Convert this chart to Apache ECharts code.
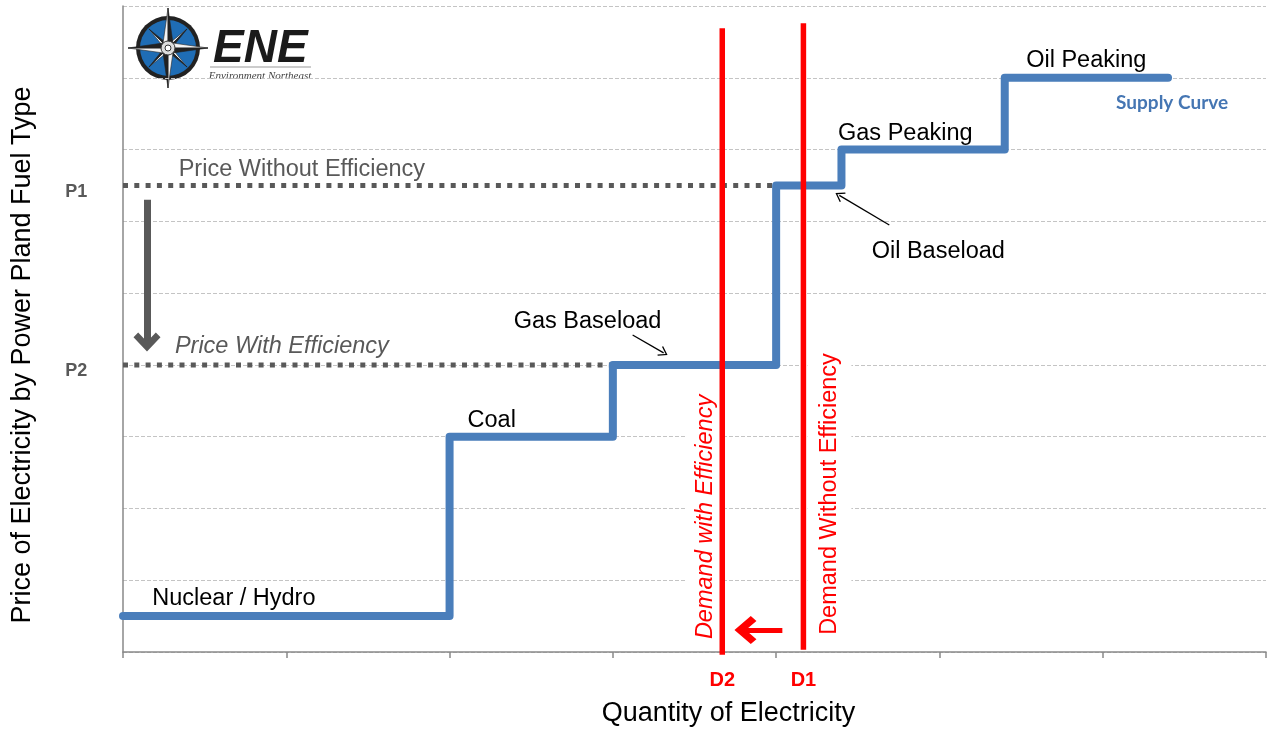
<!DOCTYPE html>
<html>
<head>
<meta charset="utf-8">
<script src="https://cdn.jsdelivr.net/npm/echarts@6/dist/echarts.min.js"></script>
<style>
  html, body { margin: 0; padding: 0; background: #fff; }
  #chart { width: 1267px; height: 729px; }
</style>
</head>
<body>
<div id="chart"></div>
<script>
// supply curve: quantity where each step starts, and the price of that step
const quantityBreaks = [0, 2, 3, 4, 4.4, 5.4, 6.4];
const supplyPrice = [0.5, 3, 4, 6.5, 7, 8, 8];

// market prices (P1 without efficiency, P2 with efficiency)
const priceNames = ['P1', 'P2'];
const priceLevels = [6.5, 4];
const priceEndQty = [4, 3];

// demand lines (D2 with efficiency, D1 without)
const demandNames = ['D2', 'D1'];
const demandQty = [3.67, 4.167];
const demandLow = [-0.04, 0.03];
const demandHigh = [8.69, 8.76];

// text annotations
const plantNames = ['Nuclear / Hydro', 'Coal', 'Gas Baseload', 'Oil Baseload', 'Gas Peaking', 'Oil Peaking'];
const plantLabelAt = [[0.783, 0.75], [2.258, 3.22], [2.845, 4.61], [4.993, 5.585], [4.791, 7.23], [5.899, 8.245]];

const FONT = 'Liberation Sans';
const RED = '#ff0000';
const BLUE = '#4a7ebb';
const GREY = '#595959';
const LABEL_SIZE = 23.5;

const chart = echarts.init(document.getElementById('chart'));

const supplyData = quantityBreaks.map((q, i) => [q, supplyPrice[i]]);

const textItems = [];
plantNames.forEach((name, i) => {
  const item = { value: plantLabelAt[i], label: { formatter: name } };
  if (i === 0) {
    item.label.backgroundColor = '#fff';
    item.label.padding = [5, 49, 1, 15];
  }
  textItems.push(item);
});
textItems.push({ value: [6.425, 7.65], label: { formatter: 'Supply Curve', color: '#4576b3', fontWeight: 'bold', fontFamily: 'Lato', fontSize: 19 } });
textItems.push({ value: [1.224, 6.724], label: { formatter: 'Price Without Efficiency', color: GREY, backgroundColor: '#fff', padding: [8, 55, 2, 13] } });
textItems.push({ value: [0.973, 4.25], label: { formatter: 'Price With Efficiency', color: GREY, fontStyle: 'italic' } });
textItems.push({ value: [3.567, 1.881], label: { formatter: 'Demand with Efficiency', color: RED, fontStyle: 'italic', rotate: 90, backgroundColor: '#fff', padding: [7, 4, 7, 4] } });
textItems.push({ value: [4.326, 2.201], label: { formatter: 'Demand Without Efficiency', color: RED, rotate: 90, backgroundColor: '#fff', padding: [10, 4, 10, 4] } });
priceNames.forEach((name, i) => {
  textItems.push({ value: [-0.287, priceLevels[i] - 0.09], label: { formatter: name, color: GREY, fontWeight: 'bold', fontSize: 18 } });
});
demandNames.forEach((name, i) => {
  textItems.push({ value: [demandQty[i], -0.40], label: { formatter: name, color: RED, fontWeight: 'bold', fontSize: 20 } });
});

const bigChevron = 'path://M0,13 L13,0 L26,13 L21.5,17.5 L13,9 L4.5,17.5 Z';
const thinChevron = 'path://M0,8 L5.5,0 L11,8 L10,8.8 L5.5,2.2 L1,8.8 Z';

// compass rose for the logo
const cx = 168, cy = 48;
const star = [];
function addPoint(angle, len, baseR, spread) {
  const a = angle * Math.PI / 180;
  const tip = [cx + len * Math.sin(a), cy - len * Math.cos(a)];
  const b1 = [cx + baseR * Math.sin(a - spread), cy - baseR * Math.cos(a - spread)];
  const b2 = [cx + baseR * Math.sin(a + spread), cy - baseR * Math.cos(a + spread)];
  star.push({ type: 'polygon', shape: { points: [[cx, cy], tip, b1] }, style: { fill: '#f4f4f4', stroke: '#222', lineWidth: 0.6 } });
  star.push({ type: 'polygon', shape: { points: [[cx, cy], tip, b2] }, style: { fill: '#222', stroke: '#222', lineWidth: 0.6 } });
}
[45, 135, 225, 315].forEach(a => addPoint(a, 27, 6, Math.PI / 8));
[0, 90, 180, 270].forEach(a => addPoint(a, 40, 7, Math.PI / 4));

const logo = [
  { type: 'rect', shape: { x: 124, y: 9, width: 192, height: 80 }, style: { fill: '#fff' } },
  { type: 'circle', shape: { cx, cy, r: 32 }, style: { fill: '#222' } },
  { type: 'circle', shape: { cx, cy, r: 28 }, style: { fill: '#1f6db5' } },
  ...star,
  { type: 'circle', shape: { cx, cy, r: 7 }, style: { fill: '#ddd', stroke: '#333', lineWidth: 1 } },
  { type: 'circle', shape: { cx, cy, r: 3 }, style: { fill: '#fff', stroke: '#333', lineWidth: 1 } },
  { type: 'text', x: 213, y: 49, style: { text: 'ENE', font: 'italic bold 46px "Liberation Sans"', fill: '#1a1a1a', verticalAlign: 'middle' } },
  { type: 'line', shape: { x1: 210, y1: 67, x2: 311, y2: 67 }, style: { stroke: '#999', lineWidth: 1 } },
  { type: 'text', x: 260, y: 76, style: { text: 'Environment Northeast', font: 'italic 11px "Liberation Serif"', fill: '#444', align: 'center', verticalAlign: 'middle' } }
];

chart.setOption({
  animation: false,
  backgroundColor: '#fff',
  textStyle: { fontFamily: FONT },
  grid: { left: 123, right: 1, top: 6, bottom: 77, outerBoundsMode: 'none' },
  xAxis: {
    type: 'value', min: 0, max: 7, interval: 1,
    name: 'Quantity of Electricity', nameLocation: 'middle', nameGap: 48,
    nameTextStyle: { fontSize: 27, color: '#000', fontFamily: FONT, padding: [0, 0, 0, 68] },
    axisLine: { lineStyle: { color: '#898989', width: 1.5 } },
    axisTick: { show: true, length: 6, lineStyle: { color: '#898989', width: 1.5 } },
    axisLabel: { show: false },
    splitLine: { show: false }
  },
  yAxis: {
    type: 'value', min: 0, max: 9, interval: 1,
    name: 'Price of Electricity by Power Pland Fuel Type', nameLocation: 'middle', nameGap: 87,
    nameTextStyle: { fontSize: 27, color: '#000', fontFamily: FONT, padding: [0, 52, 0, 0] },
    axisLine: { show: true, lineStyle: { color: '#898989', width: 1.5 } },
    axisTick: { show: false },
    axisLabel: { show: false },
    splitLine: { show: true, lineStyle: { color: '#c4c4c4', width: 1, type: [4, 2] } }
  },
  graphic: logo,
  series: [
    {
      type: 'scatter', silent: true, symbolSize: 0, clip: false, z: 2,
      itemStyle: { opacity: 1 },
      label: { show: true, position: 'inside', fontSize: LABEL_SIZE, color: '#000', fontFamily: FONT, opacity: 1 },
      data: textItems
    },
    ...priceLevels.map((p, i) => ({
      type: 'line', name: priceNames[i], silent: true, showSymbol: false, z: 3,
      data: [[0, p], [priceEndQty[i], p]],
      lineStyle: { color: GREY, width: 5, type: [5, 6.3] }
    })),
    {
      type: 'line', name: 'Supply Curve', step: 'end', silent: true, showSymbol: false, z: 4,
      data: supplyData,
      lineStyle: { color: BLUE, width: 8, cap: 'round', join: 'round' }
    },
    ...demandQty.map((q, i) => ({
      type: 'line', name: demandNames[i], silent: true, showSymbol: false, clip: false, z: 5,
      data: [[q, demandLow[i]], [q, demandHigh[i]]],
      lineStyle: { color: RED, width: 5.5 }
    })),
    {
      type: 'line', silent: true, data: [], z: 6,
      markLine: {
        silent: true, animation: false,
        label: { show: false },
        symbol: ['none', 'none'],
        data: [
          [{ coord: [0.147, 6.30], lineStyle: { color: GREY, width: 7, type: 'solid' } },
           { coord: [0.147, 4.32], symbol: bigChevron, symbolSize: [27, 19] }],
          [{ coord: [4.038, 0.306], lineStyle: { color: RED, width: 5, type: 'solid' } },
           { coord: [3.812, 0.306], symbol: bigChevron, symbolSize: [28, 22] }],
          [{ coord: [3.121, 4.416], lineStyle: { color: '#000', width: 1.3, type: 'solid' } },
           { coord: [3.311, 4.168], symbol: thinChevron, symbolSize: [11, 9] }],
          [{ coord: [4.693, 5.949], lineStyle: { color: '#000', width: 1.3, type: 'solid' } },
           { coord: [4.387, 6.362], symbol: thinChevron, symbolSize: [11, 9] }]
        ]
      }
    }
  ]
});
</script>
</body>
</html>
